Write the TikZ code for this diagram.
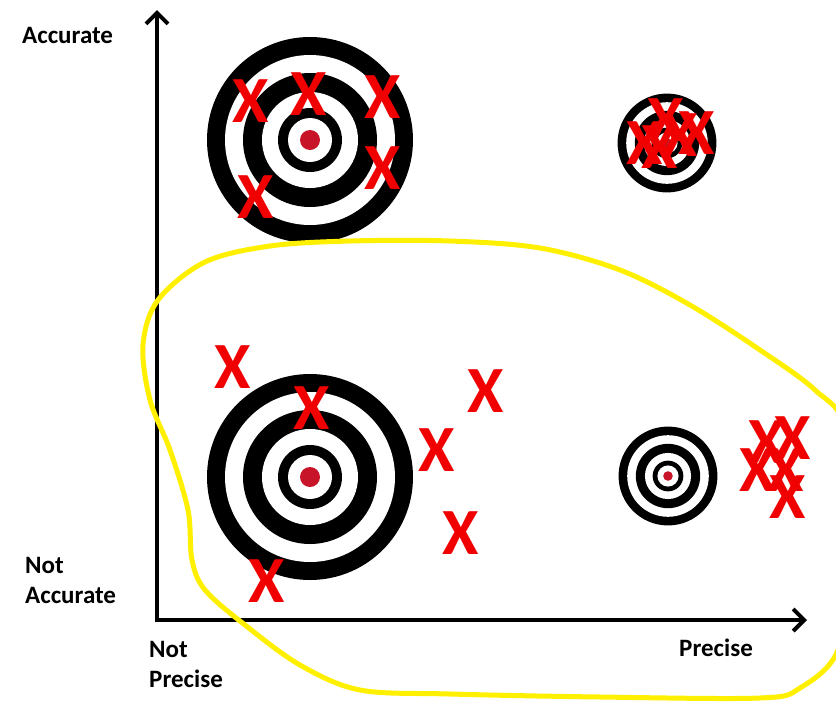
\documentclass[tikz,border=0pt]{standalone}
\usepackage{fontspec}
\setmainfont{Carlito}
\usetikzlibrary{arrows.meta}
\definecolor{xred}{RGB}{240,0,0}
\definecolor{dotred}{RGB}{200,20,40}
\definecolor{hiyellow}{RGB}{255,240,0}
\tikzset{
  xmark/.style={text=xred, font=\fontsize{66}{66}\selectfont\bfseries, inner sep=0pt, anchor=center},
  lbl/.style={font=\fontsize{25}{30}\selectfont\bfseries, inner sep=0pt, align=left},
  axis/.style={line width=4pt, -{Straight Barb[length=11pt,width=22pt,line width=4pt]}},
}
\newcommand{\mytarget}[3]{%
  \begin{scope}[shift={(#1,#2)}, scale=#3]
    \fill[black] (0,0) circle (103);
    \fill[white] (0,0) circle (85);
    \fill[black] (0,0) circle (67);
    \fill[white] (0,0) circle (48);
    \fill[black] (0,0) circle (32);
    \fill[white] (0,0) circle (22);
    \fill[dotred] (0,0) circle (10);
  \end{scope}}
\begin{document}
\begin{tikzpicture}[x=1pt,y=-1pt]
\useasboundingbox[fill=white] (0,0) rectangle (836,710);
% axes
\coordinate (O) at (157,620);
\coordinate (top) at (157,10);
\coordinate (right) at (807,620);
\draw[axis] ([yshift=-2pt]O) -- (top);
\draw[axis] ([xshift=-2pt]O) -- (right);
% labels
\node[lbl, anchor=west] (acc) at (22,35) {Accurate};
\node[lbl, anchor=west] (nacc) at (25,580) {Not\\Accurate};
\node[lbl, anchor=west] (nprec) at (149,664) {Not\\Precise};
\node[lbl, anchor=west] (prec) at (679,648) {Precise};
% targets
\mytarget{310}{140}{1}
\mytarget{667}{143}{0.48}
\mytarget{310}{477}{1}
\mytarget{668}{476}{0.48}
% X marks top-left
\node[xmark] (a1) at (251,101) {X};
\node[xmark] (a2) at (309,94) {X};
\node[xmark] (a3) at (383,97) {X};
\node[xmark] (a4) at (383,168) {X};
\node[xmark] (a5) at (256,197) {X};
% top-right cluster
\node[xmark] (b1) at (645,143) {X};
\node[xmark] (b2) at (666,120) {X};
\node[xmark] (b3) at (680,135) {X};
\node[xmark] (b4) at (697,133) {X};
\node[xmark] (b5) at (660,147) {X};
% bottom-left
\node[xmark] (c1) at (233,367) {X};
\node[xmark] (c2) at (312,408) {X};
\node[xmark] (c3) at (437,450) {X};
\node[xmark] (c4) at (486,391) {X};
\node[xmark] (c5) at (461,533) {X};
\node[xmark] (c6) at (267,581) {X};
% bottom-right cluster
\node[xmark] (d1) at (767,442) {X};
\node[xmark] (d2) at (793,438) {X};
\node[xmark] (d3) at (758,470) {X};
\node[xmark] (d4) at (786,470) {X};
\node[xmark] (d5) at (788,497) {X};
% yellow outline
\draw[hiyellow, line width=5pt, line join=round]
  plot[smooth cycle, tension=0.55] coordinates {
    (205,262) (270,246) (350,241) (450,241) (540,248) (620,270) (690,305)
    (760,350) (815,390) (845,430) (850,560) (838,650) (800,688) (760,698)
    (600,697) (450,694) (360,690) (300,665) (245,625) (205,590) (192,560)
    (188,510) (170,450) (150,400) (143,345) (158,300)
  };
\end{tikzpicture}
\end{document}
